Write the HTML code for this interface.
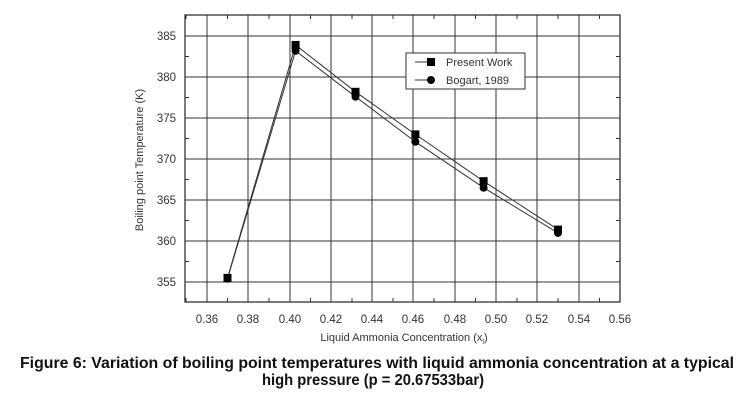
<!DOCTYPE html><html><head><style>body{margin:0;background:#fff;width:749px;height:408px;overflow:hidden}</style></head><body>
<svg width="749" height="408" viewBox="0 0 749 408" xmlns="http://www.w3.org/2000/svg" font-family="Liberation Sans, sans-serif">
<rect width="749" height="408" fill="#fff"/>
<rect x="185" y="15" width="435" height="287" fill="none" stroke="#222" stroke-width="1.2"/>
<g stroke="#333" stroke-width="1">
<line x1="207" y1="15" x2="207" y2="302"/><line x1="248" y1="15" x2="248" y2="302"/><line x1="290" y1="15" x2="290" y2="302"/><line x1="331" y1="15" x2="331" y2="302"/><line x1="372" y1="15" x2="372" y2="302"/><line x1="413" y1="15" x2="413" y2="302"/><line x1="455" y1="15" x2="455" y2="302"/><line x1="496" y1="15" x2="496" y2="302"/><line x1="537" y1="15" x2="537" y2="302"/><line x1="579" y1="15" x2="579" y2="302"/>
<line x1="185" y1="36" x2="620" y2="36"/><line x1="185" y1="77" x2="620" y2="77"/><line x1="185" y1="118" x2="620" y2="118"/><line x1="185" y1="159" x2="620" y2="159"/><line x1="185" y1="200" x2="620" y2="200"/><line x1="185" y1="241" x2="620" y2="241"/><line x1="185" y1="282" x2="620" y2="282"/>
</g>
<g stroke="#333" stroke-width="1">
<path d="M186 302v-4M227.5 302v-4M269 302v-4M310.5 302v-4M352 302v-4M393 302v-4M434 302v-4M475.5 302v-4M517 302v-4M558 302v-4M599.5 302v-4M186 15v4M227.5 15v4M269 15v4M310.5 15v4M352 15v4M393 15v4M434 15v4M475.5 15v4M517 15v4M558 15v4M599.5 15v4"/>
<path d="M185 56.5h4M185 97.5h4M185 138.5h4M185 179.5h4M185 220.5h4M185 261.5h4M620 56.5h-4M620 97.5h-4M620 138.5h-4M620 179.5h-4M620 220.5h-4M620 261.5h-4"/>
</g>
<g font-size="11.5" fill="#333" text-anchor="end">
<text x="176" y="40">385</text><text x="176" y="81">380</text><text x="176" y="122">375</text><text x="176" y="163">370</text><text x="176" y="204">365</text><text x="176" y="245">360</text><text x="176" y="286">355</text>
</g>
<g font-size="11.5" fill="#333" text-anchor="middle">
<text x="207" y="323">0.36</text><text x="248" y="323">0.38</text><text x="290" y="323">0.40</text><text x="331" y="323">0.42</text><text x="372" y="323">0.44</text><text x="413" y="323">0.46</text><text x="455" y="323">0.48</text><text x="496" y="323">0.50</text><text x="537" y="323">0.52</text><text x="579" y="323">0.54</text><text x="620" y="323">0.56</text>
<text x="404" y="341" font-size="11">Liquid Ammonia Concentration (x<tspan font-size="7" dy="3">l</tspan><tspan dy="-3">)</tspan></text>
</g>
<text transform="translate(143,160) rotate(-90)" font-size="11" fill="#333" text-anchor="middle">Boiling point Temperature (K)</text>
<polyline fill="none" stroke="#333" stroke-width="1" points="227.5,277.9 295.6,45 355.5,91.8 415.4,134.4 483.6,181.2 558,229.6"/>
<polyline fill="none" stroke="#333" stroke-width="1" points="227.5,278.7 295.6,50.8 355.5,96.7 415.4,141.8 483.6,187.7 558,232.9"/>
<g fill="#000">
<rect x="223.5" y="273.9" width="8" height="8"/><rect x="291.6" y="41" width="8" height="8"/><rect x="351.5" y="87.8" width="8" height="8"/><rect x="411.4" y="130.4" width="8" height="8"/><rect x="479.6" y="177.2" width="8" height="8"/><rect x="554" y="225.6" width="8" height="8"/>
<circle cx="227.5" cy="278.7" r="4"/><circle cx="295.6" cy="50.8" r="4"/><circle cx="355.5" cy="96.7" r="4"/><circle cx="415.4" cy="141.8" r="4"/><circle cx="483.6" cy="187.7" r="4"/><circle cx="558" cy="232.9" r="4"/>
</g>
<rect x="406" y="53" width="119" height="36" fill="#fff" stroke="#333"/>
<line x1="415" y1="62" x2="433" y2="62" stroke="#333"/><rect x="427" y="58" width="8" height="8"/>
<line x1="415" y1="80" x2="433" y2="80" stroke="#333"/><circle cx="431" cy="80" r="4"/>
<text x="446" y="66" font-size="11" fill="#333">Present Work</text>
<text x="446" y="84" font-size="11" fill="#333">Bogart, 1989</text>
<g font-size="15.5" font-weight="bold" fill="#111">
<text x="20" y="368" textLength="714" lengthAdjust="spacingAndGlyphs">Figure 6: Variation of boiling point temperatures with liquid ammonia concentration at a typical</text>
<text x="262" y="385" textLength="222" lengthAdjust="spacingAndGlyphs">high pressure (p = 20.67533bar)</text>
</g>
</svg></body></html>
